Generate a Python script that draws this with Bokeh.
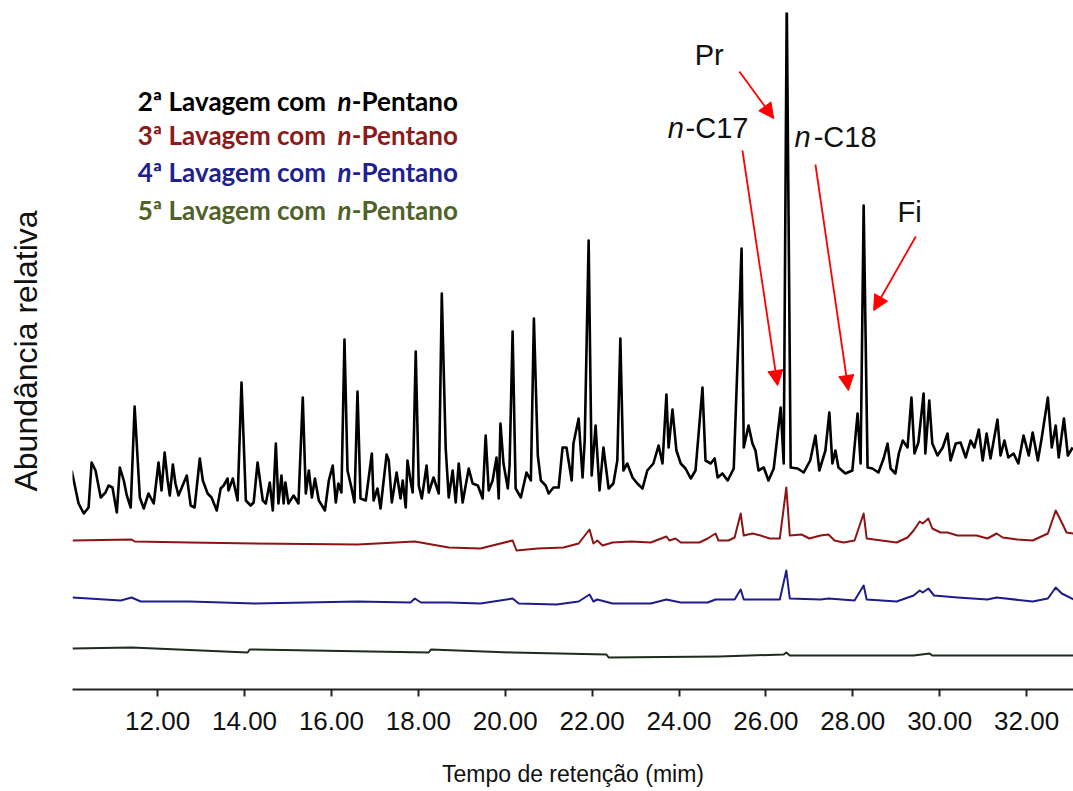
from bokeh.plotting import figure
from bokeh.models import Range1d, Label, Arrow, NormalHead, FixedTicker, NumeralTickFormatter
from bokeh.embed import file_html
from bokeh.resources import INLINE

# ---------------- data ----------------
# retention times (min) and relative abundance (arbitrary units, stacked traces)
time_2 = [10.02,10.18,10.30,10.41,10.48,10.57,10.69,10.80,10.87,10.96,
          11.06,11.13,11.22,11.29,11.38,11.47,11.59,11.68,11.79,11.91,
          12.02,12.09,12.16,12.23,12.28,12.35,12.41,12.48,12.67,12.76,
          12.85,12.97,13.04,13.15,13.24,13.36,13.45,13.52,13.61,13.63,
          13.73,13.84,13.93,14.03,14.14,14.21,14.30,14.42,14.49,14.58,
          14.65,14.72,14.78,14.85,14.90,14.94,15.01,15.13,15.24,15.34,
          15.41,15.48,15.55,15.62,15.71,15.85,15.94,16.03,16.10,16.16,
          16.23,16.30,16.37,16.46,16.53,16.60,16.67,16.79,16.93,16.97,
          17.06,17.13,17.27,17.32,17.39,17.50,17.59,17.64,17.71,17.75,
          17.82,17.87,17.94,18.01,18.08,18.19,18.24,18.35,18.47,18.54,
          18.63,18.70,18.79,18.86,18.93,19.02,19.16,19.25,19.37,19.48,
          19.55,19.62,19.71,19.80,19.85,19.89,19.96,20.06,20.10,20.17,
          20.24,20.36,20.49,20.59,20.66,20.75,20.82,20.93,21.00,21.11,
          21.23,21.32,21.41,21.53,21.57,21.69,21.78,21.83,21.92,21.99,
          22.08,22.17,22.26,22.38,22.49,22.58,22.65,22.72,22.81,22.93,
          23.04,23.16,23.27,23.41,23.53,23.62,23.71,23.76,23.85,23.94,
          24.04,24.15,24.27,24.38,24.54,24.61,24.73,24.82,24.89,25.00,
          25.12,25.26,25.44,25.49,25.60,25.69,25.76,25.83,25.95,26.06,
          26.18,26.34,26.41,26.48,26.57,26.73,26.87,27.02,27.14,27.23,
          27.37,27.46,27.53,27.60,27.67,27.83,27.99,28.11,28.18,28.25,
          28.34,28.45,28.59,28.71,28.80,28.87,28.98,29.06,29.15,29.26,
          29.35,29.42,29.51,29.63,29.67,29.76,29.83,29.95,30.07,30.18,
          30.25,30.37,30.48,30.60,30.71,30.80,30.90,30.99,31.08,31.17,
          31.33,31.40,31.49,31.58,31.70,31.81,31.93,32.05,32.14,32.26,
          32.35,32.49,32.58,32.67,32.74,32.86,32.95,33.06]
abund_2 = [219,186,176,182,227,219,192,197,204,202,
           177,222,209,194,182,283,192,181,196,186,
           227,199,237,209,194,225,206,194,214,184,
           182,231,209,196,192,179,201,204,211,199,
           211,189,307,189,184,187,227,189,186,207,
           179,246,186,214,186,207,186,194,186,292,
           196,219,192,211,189,179,209,224,187,206,
           197,350,219,202,187,298,191,189,236,189,
           201,181,235,229,187,217,191,209,182,229,
           209,197,338,204,191,224,197,212,196,396,
           241,192,219,187,226,187,221,206,204,191,
           254,199,209,232,191,266,226,201,224,358,
           201,192,217,209,371,234,209,204,196,202,
           202,242,242,209,246,271,212,249,449,214,
           264,199,242,201,206,229,351,219,226,212,
           206,201,219,226,244,226,295,242,280,239,
           226,221,211,219,302,229,226,231,212,216,
           209,221,441,242,264,246,239,219,222,209,
           221,282,226,690,222,221,217,229,254,219,
           239,277,226,239,222,216,219,276,226,484,
           222,221,217,231,246,221,216,236,249,242,
           292,236,247,296,236,289,246,234,242,256,
           229,246,247,232,249,242,260,229,256,231,
           270,234,249,232,236,226,254,234,257,229,
           252,292,242,264,232,271,234,242]

time_3 = [10.04,11.40,11.47,12.74,14.23,16.60,17.92,18.70,19.43,20.17,
          20.26,20.75,21.34,21.69,21.94,22.03,22.12,22.24,22.47,22.90,
          23.35,23.71,23.78,23.92,24.04,24.47,24.66,24.84,24.91,25.14,
          25.28,25.42,25.49,25.69,25.88,26.09,26.32,26.47,26.55,26.82,
          27.00,27.26,27.44,27.58,27.79,28.04,28.25,28.32,28.66,29.01,
          29.26,29.40,29.54,29.61,29.74,29.83,30.02,30.18,30.41,30.66,
          30.85,31.10,31.31,31.45,31.79,32.14,32.49,32.67,32.81,32.92,33.08]
abund_3 = [149,150,148,147,146,145,148,142,141,149,
           139,141,142,146,160,146,149,144,147,148,
           147,153,149,151,147,147,151,156,149,149,
           152,176,154,156,154,151,151,202,154,155,
           151,154,155,149,147,149,176,151,149,147,
           152,159,168,166,171,161,157,157,154,154,
           154,151,156,152,150,149,156,179,167,157,156]

time_4 = [10.04,11.15,11.40,11.61,12.74,14.23,16.60,17.82,17.92,18.06,
          18.70,19.43,20.17,20.31,21.18,21.69,21.94,22.03,22.12,22.47,
          23.35,23.71,24.04,24.66,24.84,25.28,25.42,25.49,26.32,26.47,
          26.55,27.26,27.44,28.04,28.25,28.32,29.01,29.40,29.54,29.61,
          29.74,29.87,30.41,31.10,31.31,32.14,32.49,32.67,32.81,33.08]
abund_4 = [92,89,92,88,88,86,88,87,91,87,
           87,86,91,86,85,88,95,88,90,86,
           86,90,87,87,90,90,100,90,90,119,
           91,90,91,89,104,90,88,94,99,97,
           101,94,92,90,92,88,91,102,96,90]

time_5 = [10.04,11.40,14.07,14.12,18.24,18.29,20.17,22.33,22.38,24.93,
          26.41,26.47,26.55,28.27,29.40,29.77,29.83,33.08]
abund_5 = [41,42,37,40,37,40,37,35,32,33,
           35,37,34,34,34,36,34,34]

x_ticks = [12, 14, 16, 18, 20, 22, 24, 26, 28, 30, 32]

series_names = ["2ª Lavagem com ", "3ª Lavagem com ", "4ª Lavagem com ", "5ª Lavagem com "]
series_colors = ["#000000", "#8c1414", "#1c1c8c", "#1e2b1e"]
legend_colors = ["#000000", "#8b1a1a", "#202090", "#4f6228"]

# ---------------- figure ----------------
p = figure(width=1073, height=791, output_backend="svg", toolbar_location=None,
           x_range=Range1d(10.04, 33.08), y_range=Range1d(0, 677),
           min_border_left=72, min_border_right=0, min_border_top=12,
           min_border_bottom=102)
p.outline_line_color = None
p.xgrid.visible = False
p.ygrid.visible = False
p.background_fill_color = "white"
p.border_fill_color = "white"

xa = p.xaxis[0]
xa.ticker = FixedTicker(ticks=x_ticks)
xa.formatter = NumeralTickFormatter(format="0.00")
xa.axis_line_width = 2
xa.axis_line_color = "#222222"
xa.major_tick_line_width = 2
xa.major_tick_line_color = "#222222"
xa.major_tick_out = 7
xa.major_tick_in = 0
xa.minor_tick_line_color = None
xa.major_label_text_font = "Liberation Sans"
xa.major_label_text_font_size = "26px"
xa.major_label_text_color = "#111111"
xa.major_label_standoff = 15
xa.axis_label = "Tempo de retenção (mim)"
xa.axis_label_text_font = "Liberation Sans"
xa.axis_label_text_font_size = "23px"
xa.axis_label_text_font_style = "normal"
xa.axis_label_text_color = "#111111"
xa.axis_label_standoff = 28

ya = p.yaxis[0]
ya.ticker = FixedTicker(ticks=[])
ya.axis_line_color = None
ya.major_tick_line_color = None
ya.minor_tick_line_color = None
ya.major_label_standoff = 0
ya.axis_label = "Abundância relativa"
ya.axis_label_text_font = "Liberation Sans"
ya.axis_label_text_font_size = "32px"
ya.axis_label_text_font_style = "normal"
ya.axis_label_text_color = "#111111"
ya.axis_label_standoff = 29

traces = [(time_2, abund_2, 2.6), (time_3, abund_3, 2.0), (time_4, abund_4, 2.0), (time_5, abund_5, 2.0)]
for (tt, aa, lw), col in zip(traces, series_colors):
    p.line(tt, aa, line_color=col, line_width=lw, line_join="round")

# legend texts (bold, italic n)
leg_y = [589, 555, 518, 480]
for name, col, yy in zip(series_names, legend_colors, leg_y):
    p.add_layout(Label(x=11.54, y=yy, text=name, text_font="Lato", text_font_style="bold",
                       text_font_size="26px", text_color=col, text_baseline="alphabetic"))
    p.add_layout(Label(x=16.14, y=yy, text="n", text_font="Lato", text_font_style="bold italic",
                       text_font_size="26px", text_color=col, text_baseline="alphabetic"))
    p.add_layout(Label(x=16.47, y=yy, text="-Pentano", text_font="Lato", text_font_style="bold",
                       text_font_size="26px", text_color=col, text_baseline="alphabetic"))

# peak annotations
ann_font = "Liberation Sans"
ann_size = "29px"
p.add_layout(Label(x=24.36, y=635, text="Pr", text_font=ann_font, text_font_size=ann_size,
                   text_color="#111111", text_baseline="alphabetic"))
p.add_layout(Label(x=23.74, y=562, text="n", text_font=ann_font, text_font_style="italic",
                   text_font_size=ann_size, text_color="#111111", text_baseline="alphabetic"))
p.add_layout(Label(x=24.15, y=562, text="-C17", text_font=ann_font, text_font_size=ann_size,
                   text_color="#111111", text_baseline="alphabetic"))
p.add_layout(Label(x=26.66, y=553, text="n", text_font=ann_font, text_font_style="italic",
                   text_font_size=ann_size, text_color="#111111", text_baseline="alphabetic"))
p.add_layout(Label(x=27.10, y=553, text="-C18", text_font=ann_font, text_font_size=ann_size,
                   text_color="#111111", text_baseline="alphabetic"))
p.add_layout(Label(x=29.03, y=478, text="Fi", text_font=ann_font, text_font_size=ann_size,
                   text_color="#111111", text_baseline="alphabetic"))

arrows = [(25.39, 618, 26.18, 571), (25.46, 539, 26.27, 304),
          (27.14, 525, 27.90, 299), (29.45, 453, 28.48, 379)]
for xs, ys, xe, ye in arrows:
    p.add_layout(Arrow(end=NormalHead(size=15, fill_color="#ff0000", line_color="#ff0000"),
                       x_start=xs, y_start=ys, x_end=xe, y_end=ye,
                       line_color="#ff0000", line_width=1.8))

open("out.html", "w").write(file_html(p, INLINE))
